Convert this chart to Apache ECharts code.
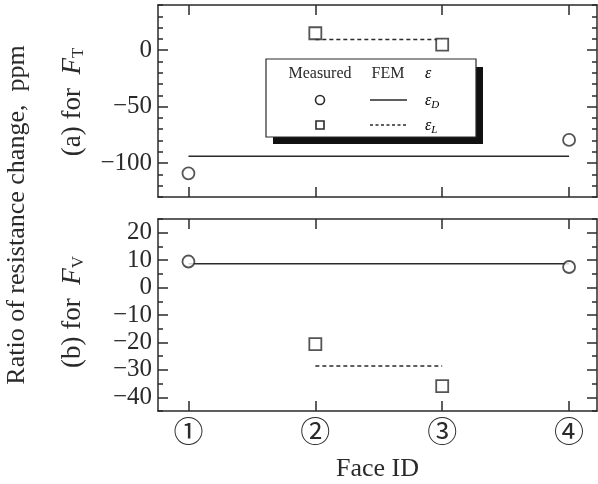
<!DOCTYPE html>
<html>
<head>
<meta charset="utf-8">
<script src="https://cdn.jsdelivr.net/npm/echarts@6/dist/echarts.min.js"></script>
<style>
  html, body { margin: 0; padding: 0; background: #fff; }
  #chart { width: 598px; height: 484px; }
</style>
</head>
<body>
<div id="chart"></div>
<script>
// face IDs on the x axis and their printed labels
const faces = [1, 2, 3, 4]
const faceLabels = ['①', '②', '③', '④']

// (a) for F_T
const measDTop = [-109, null, null, -79.5]
const measLTop = [null, 15, 5, null]
const femDTop = [-94, -94, -94, -94]
const femLTop = [null, 9.5, 9.5, null]
const ticksTop = [-100, -50, 0]

// (b) for F_V
const measDBot = [9.5, null, null, 7.5]
const measLBot = [null, -20.6, -35.9, null]
const femDBot = [8.7, 8.7, 8.7, 8.7]
const femLBot = [null, -28.6, -28.6, null]
const ticksBot = [-40, -30, -20, -10, 0, 10, 20]

const ink = '#2a2a2a'
const serif = '"Liberation Serif", "DejaVu Serif", serif'
const minus = v => String(v).replace('-', '\u2212')
const pts = arr => faces.map((f, i) => [f, arr[i]]).filter(p => p[1] != null)

function xAxes(grid, labels) {
  const base = {
    type: 'value', gridIndex: grid, min: 0.76, max: 4.22,
    splitLine: { show: false },
    axisLine: { show: true, onZero: false, lineStyle: { color: ink, width: 1.5 } },
    axisTick: { show: true, inside: true, length: 10, customValues: faces, lineStyle: { color: ink, width: 1.5 } }
  }
  return [
    {
      ...base, position: 'bottom',
      axisLabel: labels ? {
        customValues: faces,
        formatter: v => faceLabels[faces.indexOf(v)],
        color: ink, fontSize: 30, fontFamily: '"Noto Sans CJK JP"', margin: 5
      } : { show: false }
    },
    { ...base, position: 'top', axisLabel: { show: false } }
  ]
}

function yAxes(grid, min, max, minor, majors) {
  const tick = { color: ink, width: 1.5 }
  const common = { type: 'value', gridIndex: grid, min, max, splitLine: { show: false } }
  return [
    {
      ...common, position: 'left', interval: minor,
      axisLine: { show: true, onZero: false, lineStyle: { color: ink, width: 1.5 } },
      axisTick: { inside: true, length: 5, lineStyle: tick },
      axisLabel: { customValues: majors, formatter: minus, color: ink, fontSize: 25, fontFamily: serif, margin: 6 }
    },
    {
      ...common, position: 'left',
      axisLine: { show: false },
      axisTick: { inside: true, length: 10, customValues: majors, lineStyle: tick },
      axisLabel: { show: false }
    },
    {
      ...common, position: 'right', interval: minor,
      axisLine: { show: true, onZero: false, lineStyle: { color: ink, width: 1.5 } },
      axisTick: { inside: true, length: 5, lineStyle: tick },
      axisLabel: { show: false }
    },
    {
      ...common, position: 'right',
      axisLine: { show: false },
      axisTick: { inside: true, length: 10, customValues: majors, lineStyle: tick },
      axisLabel: { show: false }
    }
  ]
}

function panel(xi, yi, measD, measL, femD, femL) {
  const mark = { color: '#fff', borderColor: ink, borderWidth: 1.8 }
  return [
    { type: 'line', xAxisIndex: xi, yAxisIndex: yi, data: pts(femD), symbol: 'none', silent: true,
      lineStyle: { color: ink, width: 1.5 } },
    { type: 'line', xAxisIndex: xi, yAxisIndex: yi, data: pts(femL), symbol: 'none', silent: true,
      lineStyle: { color: ink, width: 1.5, type: [4, 3] } },
    { type: 'scatter', xAxisIndex: xi, yAxisIndex: yi, data: pts(measD), symbol: 'circle', symbolSize: 12,
      itemStyle: mark, z: 5 },
    { type: 'scatter', xAxisIndex: xi, yAxisIndex: yi, data: pts(measL), symbol: 'rect', symbolSize: 12,
      itemStyle: mark, z: 5 }
  ]
}

const rotText = (x, y, text, size, rich) => ({
  type: 'text', x, y, rotation: Math.PI / 2,
  style: { text, fontSize: size, fontFamily: serif, fill: ink, align: 'center', verticalAlign: 'middle', rich }
})
const subRich = {
  i: { fontStyle: 'italic', fontSize: 27, fontFamily: serif, color: ink },
  s: { fontSize: 17, fontFamily: serif, color: ink, padding: [12, 0, 0, 0] }
}
const legRich = {
  e: { fontStyle: 'italic', fontSize: 16, fontFamily: serif, color: ink },
  s: { fontStyle: 'italic', fontSize: 11, fontFamily: serif, color: ink, padding: [8, 0, 0, 0] }
}

const chart = echarts.init(document.getElementById('chart'))
chart.setOption({
  backgroundColor: '#fff',
  animation: false,
  grid: [
    { left: 158, right: 1, top: 5, height: 192 },
    { left: 158, right: 1, top: 219, height: 192 }
  ],
  xAxis: [
    ...xAxes(0, false),
    ...xAxes(1, true).map((a, i) => i === 0 ? {
      ...a, name: 'Face ID', nameLocation: 'middle', nameGap: 45,
      nameTextStyle: { color: ink, fontSize: 26, fontFamily: serif }
    } : a)
  ],
  yAxis: [
    ...yAxes(0, -130, 40, 10, ticksTop),
    ...yAxes(1, -45, 25, 5, ticksBot)
  ],
  series: [
    ...panel(0, 0, measDTop, measLTop, femDTop, femLTop),
    ...panel(2, 4, measDBot, measLBot, femDBot, femLBot)
  ],
  graphic: [
    rotText(17, 215, 'Ratio of resistance change,  ppm', 26),
    rotText(73, 102, '(a) for  {i|F}{s|T}', 27, subRich),
    rotText(73, 312, '(b) for  {i|F}{s|V}', 27, subRich),
    // legend box
    { type: 'rect', z: 50, shape: { x: 273, y: 67, width: 210, height: 77 }, style: { fill: '#111' } },
    { type: 'rect', z: 51, shape: { x: 266, y: 59, width: 210, height: 78 },
      style: { fill: '#fff', stroke: ink, lineWidth: 1.2 } },
    { type: 'text', z: 52, x: 320, y: 74, style: { text: 'Measured', fontSize: 16, fontFamily: serif, fill: ink, align: 'center', verticalAlign: 'middle' } },
    { type: 'text', z: 52, x: 388, y: 74, style: { text: 'FEM', fontSize: 16, fontFamily: serif, fill: ink, align: 'center', verticalAlign: 'middle' } },
    { type: 'text', z: 52, x: 425, y: 74, style: { text: '{e|ε}', rich: legRich, verticalAlign: 'middle' } },
    { type: 'circle', z: 52, shape: { cx: 320, cy: 100, r: 4.5 }, style: { fill: '#fff', stroke: ink, lineWidth: 1.6 } },
    { type: 'line', z: 52, shape: { x1: 370, y1: 100, x2: 407, y2: 100 }, style: { stroke: ink, lineWidth: 1.3 } },
    { type: 'text', z: 52, x: 425, y: 101, style: { text: '{e|ε}{s|D}', rich: legRich, verticalAlign: 'middle' } },
    { type: 'rect', z: 52, shape: { x: 316, y: 121, width: 8, height: 8 }, style: { fill: '#fff', stroke: ink, lineWidth: 1.6 } },
    { type: 'line', z: 52, shape: { x1: 370, y1: 125, x2: 407, y2: 125 }, style: { stroke: ink, lineWidth: 1.3, lineDash: [3, 2.5] } },
    { type: 'text', z: 52, x: 425, y: 126, style: { text: '{e|ε}{s|L}', rich: legRich, verticalAlign: 'middle' } }
  ]
})
</script>
</body>
</html>
